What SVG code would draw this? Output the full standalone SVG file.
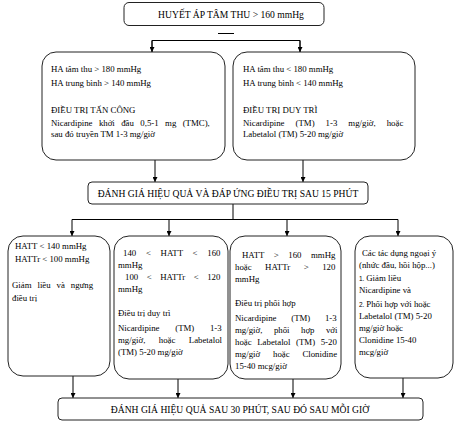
<svg xmlns="http://www.w3.org/2000/svg" width="462" height="425" viewBox="0 0 462 425">
<defs>
<marker id="ah" viewBox="0 0 6 6" refX="6" refY="3" markerWidth="5" markerHeight="5" markerUnits="userSpaceOnUse" orient="auto">
<path d="M0,0 L6,3 L0,6 z" fill="#000"/>
</marker>
<style>
.box{fill:#fff;stroke:#222;stroke-width:1}
.t{font-family:"Liberation Serif","Times New Roman",serif;font-size:9.6px;fill:#000}
.b{font-family:"Liberation Serif","Times New Roman",serif;font-size:8.8px;fill:#000}
.n{font-family:"Liberation Sans",Arial,sans-serif;font-size:6.5px}
.c{fill:none;stroke:#000;stroke-width:1}
.a{fill:none;stroke:#000;stroke-width:1;marker-end:url(#ah)}
</style>
</defs>
<rect width="462" height="425" fill="#fff"/>
<g id="connectors">
<line class="c" x1="218" y1="33.5" x2="234" y2="33.5"/>
<polyline class="c" points="152,52 152,40.5 300,40.5 300,52"/>
<line class="a" x1="152" y1="40.5" x2="152" y2="52"/>
<line class="a" x1="300" y1="40.5" x2="300" y2="52"/>
<line class="a" x1="155" y1="160" x2="155" y2="182"/>
<line class="a" x1="303" y1="160" x2="303" y2="182"/>
<line class="c" x1="233" y1="204" x2="233" y2="219.5"/>
<line class="c" x1="72" y1="219.5" x2="398" y2="219.5"/>
<line class="a" x1="72" y1="219.5" x2="72" y2="236"/>
<line class="a" x1="169" y1="219.5" x2="169" y2="236"/>
<line class="a" x1="287" y1="219.5" x2="287" y2="236"/>
<line class="a" x1="398" y1="219.5" x2="398" y2="236"/>
<line class="a" x1="73" y1="376" x2="73" y2="398"/>
<line class="a" x1="178" y1="379" x2="178" y2="398"/>
<line class="a" x1="293" y1="379" x2="293" y2="398"/>
<line class="a" x1="403" y1="378" x2="403" y2="398"/>
</g>
<g id="n-top">
<rect class="box" x="124" y="2.5" width="200" height="23" rx="5"/>
<text class="t" x="231" y="18" text-anchor="middle">HUYẾT ÁP TÂM THU &gt; 160 mmHg</text>
</g>
<g id="n-attack">
<rect class="box" x="42" y="52" width="183" height="108" rx="14"/>
<text class="b" x="51" y="72">HA tâm thu &gt; 180 mmHg</text>
<text class="b" x="51" y="86">HA trung bình &gt; 140 mmHg</text>
<text class="b" x="51" y="113">ĐIỀU TRỊ TẤN CÔNG</text>
<text class="b" x="51" y="126" word-spacing="4.2">Nicardipine khởi đầu 0,5-1 mg (TMC),</text>
<text class="b" x="51" y="137">sau đó truyền TM 1-3 mg/giờ</text>
</g>
<g id="n-maintain">
<rect class="box" x="233" y="52" width="182" height="108" rx="14"/>
<text class="b" x="243" y="72">HA tâm thu &lt; 180 mmHg</text>
<text class="b" x="243" y="86">HA trung bình &lt; 140 mmHg</text>
<text class="b" x="243" y="113">ĐIỀU TRỊ DUY TRÌ</text>
<text class="b" x="243" y="126" word-spacing="8.8">Nicardipine (TM) 1-3 mg/giờ, hoặc</text>
<text class="b" x="243" y="137">Labetalol (TM) 5-20 mg/giờ</text>
</g>
<g id="n-eval15">
<rect class="box" x="88" y="182" width="280" height="22" rx="4"/>
<text class="t" x="228" y="197" text-anchor="middle">ĐÁNH GIÁ HIỆU QUẢ VÀ ĐÁP ỨNG ĐIỀU TRỊ SAU 15 PHÚT</text>
</g>
<g id="n-low">
<rect class="box" x="8" y="236" width="102" height="140" rx="15"/>
<text class="b" x="15" y="249">HATT &lt; 140 mmHg</text>
<text class="b" x="15" y="262">HATTr &lt; 100 mmHg</text>
<text class="b" x="12" y="288" word-spacing="3.7">Giảm liều và ngưng</text>
<text class="b" x="12" y="301">điều trị</text>
</g>
<g id="n-mid">
<rect class="box" x="114" y="236" width="114" height="143" rx="15"/>
<text class="b" x="123" y="256" word-spacing="7.5">140 &lt; HATT &lt; 160</text>
<text class="b" x="118" y="268">mmHg</text>
<text class="b" x="125" y="280" word-spacing="6.3">100 &lt; HATTr &lt; 120</text>
<text class="b" x="118" y="292">mmHg</text>
<text class="b" x="118" y="316">Điều trị duy trì</text>
<text class="b" x="118" y="331" word-spacing="13.5">Nicardipine (TM) 1-3</text>
<text class="b" x="118" y="343" word-spacing="11.2">mg/giờ, hoặc Labetalol</text>
<text class="b" x="118" y="355">(TM) 5-20 mg/giờ</text>
</g>
<g id="n-high">
<rect class="box" x="230" y="236" width="111" height="143" rx="15"/>
<text class="b" x="242" y="258" word-spacing="7.3">HATT &gt; 160 mmHg</text>
<text class="b" x="235" y="270" word-spacing="11.3">hoặc HATTr &gt; 120</text>
<text class="b" x="235" y="282">mmHg</text>
<text class="b" x="235" y="306">Điều trị phối hợp</text>
<text class="b" x="235" y="321" word-spacing="12.5">Nicardipine (TM) 1-3</text>
<text class="b" x="235" y="333" word-spacing="9.3">mg/giờ, phối hợp với</text>
<text class="b" x="235" y="345" word-spacing="3.4">hoặc Labetalol (TM) 5-20</text>
<text class="b" x="235" y="357" word-spacing="10.6">mg/giờ hoặc Clonidine</text>
<text class="b" x="235" y="369">15-40 mcg/giờ</text>
</g>
<g id="n-side">
<rect class="box" x="355" y="236" width="98" height="142" rx="15"/>
<text class="b" x="362" y="256">Các tác dụng ngoại ý</text>
<text class="b" x="359" y="268">(nhức đầu, hồi hộp...)</text>
<text class="b" x="359" y="281"><tspan class="n">1. </tspan>Giảm liều</text>
<text class="b" x="359" y="293">Nicardipine và</text>
<text class="b" x="359" y="307"><tspan class="n">2.  </tspan>Phối hợp với hoặc</text>
<text class="b" x="359" y="319">Labetalol (TM) 5-20</text>
<text class="b" x="359" y="331">mg/giờ hoặc</text>
<text class="b" x="359" y="343">Clonidine 15-40</text>
<text class="b" x="359" y="355">mcg/giờ</text>
</g>
<g id="n-eval30">
<rect class="box" x="58" y="398" width="365" height="22" rx="4"/>
<text class="t" x="240" y="413" text-anchor="middle">ĐÁNH GIÁ HIỆU QUẢ SAU 30 PHÚT, SAU ĐÓ SAU MỖI GIỜ</text>
</g>
</svg>
